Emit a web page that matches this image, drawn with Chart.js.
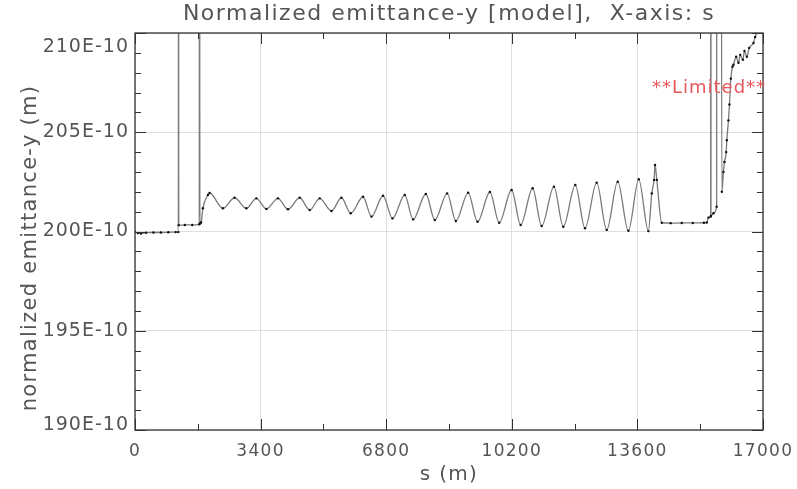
<!DOCTYPE html>
<html>
<head>
<meta charset="utf-8">
<title>Normalized emittance-y</title>
<script src="https://cdn.jsdelivr.net/npm/chart.js@4.4.1/dist/chart.umd.min.js"></script>
<style>
    html, body { margin: 0; padding: 0; background: #fff; }
    #wrap { width: 797px; height: 489px; }
</style>
</head>
<body>
<div id="wrap"><canvas id="emitChart" width="797" height="489"></canvas></div>
<script>
// s position along the line (m)
const sPos = [
    0, 80, 160, 300, 500, 700, 900, 1100, 1174, 1179, 1184, 1350, 1550, 1740, 1748, 1756,
    1790, 1837, 1973, 2019, 2379, 2696, 3014, 3285, 3556, 3870, 4141, 4458, 4729, 5000,
    5317, 5588, 5840, 6173, 6401, 6715, 6970, 7303, 7528, 7873, 8116, 8450, 8686, 9019,
    9274, 9607, 9859, 10195, 10439, 10764, 11008, 11341, 11593, 11919, 12181, 12498, 12769,
    13067, 13355, 13637, 13897, 13989, 14051, 14078, 14125, 14260, 14500, 14800, 15100,
    15400, 15479, 15523, 15584, 15588, 15592, 15659, 15745, 15751, 15860, 15886, 15929,
    15957, 16003, 16021, 16065, 16092, 16130, 16173, 16200, 16273, 16336, 16382, 16455,
    16498, 16563, 16626, 16742, 16788, 16835, 17000
];
// normalized emittance-y, in units of 1E-10 m
const emitY = [
    199.98, 199.92, 199.90, 199.94, 199.95, 199.95, 199.96, 199.97, 199.97, 235, 200.32, 200.33, 200.33, 200.36, 235, 200.40,
    200.45, 201.17, 201.84, 201.94, 201.17, 201.70, 201.17, 201.67, 201.13, 201.67, 201.12, 201.70, 201.08, 201.67,
    201.03, 201.70, 200.92, 201.75, 200.75, 201.80, 200.66, 201.84, 200.61, 201.89, 200.58, 201.92, 200.53, 201.95,
    200.49, 201.99, 200.44, 202.09, 200.33, 202.18, 200.28, 202.26, 200.24, 202.34, 200.16, 202.46, 200.08,
    202.51, 200.04, 202.63, 200.02, 201.92, 202.60, 203.35, 202.60, 200.44, 200.42, 200.43, 200.43,
    200.44, 200.45, 200.70, 200.75, 235, 200.78, 200.92, 201.25, 235, 235, 202.0, 203.0,
    203.5, 204.0, 204.6, 205.6, 206.4, 207.7, 208.3, 208.4, 208.8, 208.5, 208.9, 208.65,
    209.1, 208.8, 209.25, 209.5, 209.8, 210.0, 210.0
];
const xTicks = [0, 3400, 6800, 10200, 13600, 17000];
const yTicks = [190, 195, 200, 205, 210];

const titleText = 'Normalized emittance-y [model],  X-axis: s';
const yTitleText = 'normalized emittance-y (m)';
const limitText = '**Limited**';

Chart.defaults.font.family = '"DejaVu Sans", sans-serif';
Chart.defaults.color = '#555';

const framePlugin = {
    id: 'framePlugin',
    beforeDraw(chart) {
        chart.ctx.letterSpacing = '1.3px';
    },
    afterDraw(chart) {
        const { ctx, chartArea: a, scales: { x, y } } = chart;
        ctx.save();

        // box
        ctx.strokeStyle = '#333';
        ctx.lineWidth = 1.3;
        ctx.strokeRect(a.left, a.top, a.width, a.height);

        // inward ticks on all four sides
        ctx.beginPath();
        const xStep = (xTicks[1] - xTicks[0]) / 2;
        for (let v = xTicks[0]; v <= xTicks[xTicks.length - 1]; v += xStep) {
            const px = Math.round(x.getPixelForValue(v)) + 0.5;
            const len = xTicks.includes(v) ? 11 : 6;
            ctx.moveTo(px, a.bottom); ctx.lineTo(px, a.bottom - len);
            ctx.moveTo(px, a.top); ctx.lineTo(px, a.top + len);
        }
        for (let v = yTicks[0]; v <= yTicks[yTicks.length - 1]; v += 1) {
            const py = Math.round(y.getPixelForValue(v)) + 0.5;
            const len = yTicks.includes(v) ? 11 : 6;
            ctx.moveTo(a.left, py); ctx.lineTo(a.left + len, py);
            ctx.moveTo(a.right, py); ctx.lineTo(a.right - len, py);
        }
        ctx.lineWidth = 1;
        ctx.stroke();

        // y tick labels
        ctx.fillStyle = '#555';
        ctx.letterSpacing = '1px';
        ctx.font = '19px "DejaVu Sans"';
        ctx.textAlign = 'right';
        ctx.textBaseline = 'middle';
        yTicks.forEach(v => {
            let py = y.getPixelForValue(v);
            py = Math.min(Math.max(py, a.top + 14), a.bottom - 5);
            ctx.fillText(v + 'E-10', a.left - 6, py);
        });

        // y axis title
        ctx.save();
        ctx.letterSpacing = '1.3px';
        ctx.font = '21px "DejaVu Sans"';
        ctx.textAlign = 'center';
        ctx.translate(31, 248);
        ctx.rotate(-Math.PI / 2);
        ctx.fillText(yTitleText, 0, 0);
        ctx.restore();

        // title, centred over the plot box
        ctx.letterSpacing = '1.5px';
        ctx.font = '22px "DejaVu Sans"';
        ctx.textAlign = 'center';
        ctx.fillText(titleText, (a.left + a.right) / 2, 14);

        // clipping note
        ctx.letterSpacing = '1px';
        ctx.fillStyle = '#e8575a';
        ctx.font = '18px "DejaVu Sans"';
        ctx.textAlign = 'left';
        ctx.fillText(limitText, 652, 88);

        ctx.restore();
    }
};

const points = sPos.map((s, i) => ({ x: s, y: emitY[i] }));

new Chart(document.getElementById('emitChart'), {
    type: 'line',
    data: {
        datasets: [{
            data: points,
            borderColor: '#7a7a7a',
            borderWidth: 1.3,
            pointRadius: 1.2,
            pointBackgroundColor: '#111',
            pointBorderWidth: 0,
            cubicInterpolationMode: 'monotone',
            fill: false
        }]
    },
    options: {
        responsive: false,
        animation: false,
        layout: { padding: { top: 33, right: 34, left: 0, bottom: 0 } },
        plugins: {
            legend: { display: false },
            tooltip: { enabled: false }
        },
        scales: {
            x: {
                type: 'linear',
                min: 0,
                max: 17000,
                border: { display: false },
                grid: { color: '#dedede', drawTicks: false },
                ticks: {
                    stepSize: 3400,
                    padding: 11,
                    font: { size: 17 },
                    color: '#555',
                    maxRotation: 0,
                    callback: v => xTicks.includes(v) ? String(v) : ''
                },
                title: {
                    display: true,
                    text: 's (m)',
                    font: { size: 20 },
                    color: '#555',
                    padding: { top: 0, bottom: 2 }
                },
                afterFit(scale) {
                    scale.height = 59;
                    scale.paddingLeft = 0;
                    scale.paddingRight = 0;
                }
            },
            y: {
                type: 'linear',
                min: 190,
                max: 210,
                border: { display: false },
                grid: { color: '#dedede', drawTicks: false },
                ticks: { stepSize: 5, display: false },
                title: { display: false },
                afterFit(scale) {
                    scale.width = 135;
                    scale.paddingTop = 0;
                    scale.paddingBottom = 0;
                }
            }
        }
    },
    plugins: [framePlugin]
});
</script>
</body>
</html>
